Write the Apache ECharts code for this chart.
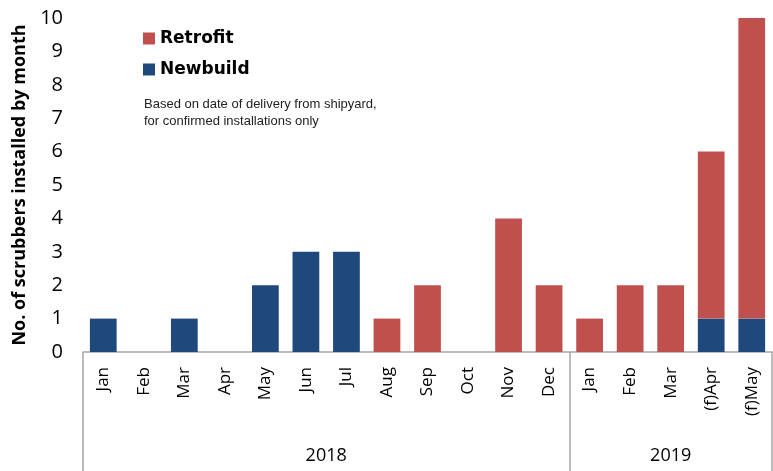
<!DOCTYPE html>
<html><head><meta charset="utf-8">
<script src="https://cdn.jsdelivr.net/npm/echarts@6/dist/echarts.min.js"></script>
<style>html,body{margin:0;padding:0;background:#fff}#c{width:773px;height:471px}</style>
</head><body><div id="c"></div>
<script>
const months = ['Jan','Feb','Mar','Apr','May','Jun','Jul','Aug','Sep','Oct','Nov','Dec','Jan','Feb','Mar','(f)Apr','(f)May'];
const years = ['2018','2019'];
const yearStart = [0, 12];
const yearEnd = [12, 17];
const newbuild = [1,0,1,0,2,3,3,0,0,0,0,0,0,0,0,1,1];
const retrofit = [0,0,0,0,0,0,0,1,2,0,4,2,1,2,2,5,9];
const yTicks = [0,1,2,3,4,5,6,7,8,9,10];

const yearMid = yearStart.map((s,i)=>(s+yearEnd[i])/2);
const chart = echarts.init(document.getElementById('c'));
chart.setOption({
  animation:false,
  title:{text:'Based on date of delivery from shipyard,\nfor confirmed installations only',left:139,top:91,
    textStyle:{fontFamily:'Liberation Sans',fontSize:13,fontWeight:'normal',color:'#222',lineHeight:17}},
  legend:{data:['Retrofit','Newbuild'],orient:'vertical',left:138,top:25,itemGap:14,itemWidth:12,itemHeight:12,
    icon:'rect',textStyle:{fontFamily:'DejaVu Sans',fontWeight:'bold',fontSize:17,color:'#000'}},
  grid:{left:83,right:1,top:18,bottom:119},
  xAxis:[{
    type:'category',data:months,
    axisLine:{lineStyle:{color:'#a6a6a6',width:1.5}},
    axisTick:{length:76,lineStyle:{color:'#a6a6a6',width:1.5}},
    axisLabel:{rotate:90,interval:0,margin:15,fontFamily:'Open Sans',fontSize:17,color:'#000'}
  },{
    type:'value',min:0,max:17,position:'bottom',
    axisLine:{show:false},
    splitLine:{show:false},
    axisTick:{show:true,customValues:[0,12,17],length:119,lineStyle:{color:'#a6a6a6',width:1.5}},
    axisLabel:{customValues:yearMid,margin:95,fontFamily:'Open Sans',fontSize:18,color:'#000',
      formatter:v=>years[yearMid.indexOf(v)]}
  }],
  yAxis:{type:'value',min:0,max:10,interval:1,
    name:'No. of scrubbers installed by month',nameLocation:'middle',nameGap:54,
    nameTextStyle:{fontFamily:'Open Sans',fontWeight:'bold',fontSize:18,color:'#000'},
    axisLine:{show:false},axisTick:{show:false},splitLine:{show:false},
    axisLabel:{margin:20,fontFamily:'Open Sans',fontSize:20,color:'#000',formatter:v=>yTicks.includes(v)?String(v):''}},
  series:[
    {name:'Newbuild',type:'bar',stack:'a',data:newbuild,barWidth:'66%',itemStyle:{color:'#1f497d'}},
    {name:'Retrofit',type:'bar',stack:'a',data:retrofit,barWidth:'66%',itemStyle:{color:'#c0504d'}}
  ]
});
</script></body></html>
